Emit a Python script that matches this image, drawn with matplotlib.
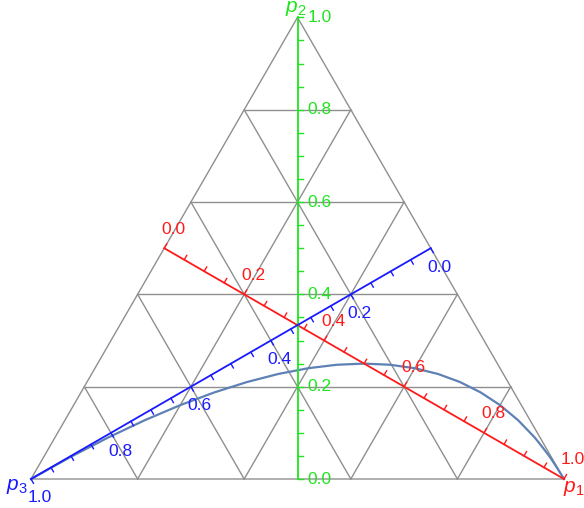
import numpy as np
import matplotlib.pyplot as plt

plt.rcParams['font.family'] = 'Liberation Sans'
plt.rcParams['mathtext.fontset'] = 'custom'
plt.rcParams['mathtext.it'] = 'Liberation Sans:italic'
plt.rcParams['mathtext.rm'] = 'Liberation Sans'

# ternary grid levels and axis labels
grid_levels = [0.2, 0.4, 0.6, 0.8]
label_values = [0.0, 0.2, 0.4, 0.6, 0.8, 1.0]
tick_step = 0.05

# curve points (p1, p2); p3 is what is left over
curve_p1 = [0.0, 0.05, 0.1, 0.15, 0.2, 0.25, 0.3, 0.35, 0.4, 0.45, 0.5, 0.55,
            0.6, 0.65, 0.7, 0.75, 0.8, 0.85, 0.9, 0.925, 0.95, 0.975, 1.0]
curve_p2 = [0.0, 0.0475, 0.09, 0.1275, 0.16, 0.1875, 0.21, 0.2275, 0.24, 0.2475, 0.25, 0.2475,
            0.24, 0.2275, 0.21, 0.1875, 0.16, 0.1275, 0.09, 0.069, 0.0475, 0.024, 0.0]

H = np.sqrt(3) / 2


def to_xy(p1, p2, p3):
    # p3 at the left corner, p1 at the right, p2 on top
    p1, p2, p3 = np.asarray(p1, float), np.asarray(p2, float), np.asarray(p3, float)
    s = p1 + p2 + p3
    return (p1 + 0.5 * p2) / s, H * p2 / s


fig = plt.figure(figsize=(5.84, 5.08), dpi=100)
ax = fig.add_axes([0, 0, 1, 1])
ax.set_xlim(-31 / 533, 553 / 533)
ax.set_ylim(-29 / 533, 479 / 533)
ax.axis('off')

gray = '#8f8f8f'
# outer triangle
x, y = to_xy([0, 1, 0, 0], [0, 0, 1, 0], [1, 0, 0, 1])
ax.plot(x, y, color=gray, lw=1.0)
# inner grid
for c in grid_levels:
    for a, b in [((c, 1 - c, 0), (c, 0, 1 - c)),
                 ((1 - c, c, 0), (0, c, 1 - c)),
                 ((1 - c, 0, c), (0, 1 - c, c))]:
        x, y = to_xy([a[0], b[0]], [a[1], b[1]], [a[2], b[2]])
        ax.plot(x, y, color=gray, lw=1.0)

# curve
cp1 = np.array(curve_p1)
cp2 = np.array(curve_p2)
x, y = to_xy(cp1, cp2, 1 - cp1 - cp2)
ax.plot(x, y, color='#5e81b5', lw=1.6, zorder=3)

# the three median axes: start, end, colour, tick normal, label offset (px)
axes_spec = [
    ((0, 0.5, 0.5), (1, 0, 0), '#ff1a1a', (0.5, H), (9, 19), 'center'),
    ((0.5, 0, 0.5), (0, 1, 0), '#1ee61e', (1, 0), (10, 0), 'left'),
    ((0.5, 0.5, 0), (0, 0, 1), '#1a1aff', (0.5, -H), (9, -19), 'center'),
]
tick_len = 5 / 533
for start, end, col, nrm, off, ha in axes_spec:
    x0, y0 = to_xy(*start)
    x1, y1 = to_xy(*end)
    ax.plot([x0, x1], [y0, y1], color=col, lw=1.3, zorder=4)
    for v in np.arange(0, 1 + 1e-9, tick_step):
        px = x0 + v * (x1 - x0)
        py = y0 + v * (y1 - y0)
        ax.plot([px, px + nrm[0] * tick_len], [py, py + nrm[1] * tick_len],
                color=col, lw=1.0, zorder=4)
    for v in label_values:
        px = x0 + v * (x1 - x0)
        py = y0 + v * (y1 - y0)
        ax.annotate(f'{v:.1f}', (px, py), xytext=off, textcoords='offset pixels',
                    ha=ha, va='center', color=col, fontsize=12.5, zorder=5)

# corner names
ax.annotate(r'$p_1$', to_xy(1, 0, 0), xytext=(10, -10), textcoords='offset pixels',
            ha='center', va='center', color='#ff1a1a', fontsize=15)
ax.annotate(r'$p_2$', to_xy(0, 1, 0), xytext=(-2, 9), textcoords='offset pixels',
            ha='center', va='center', color='#1ee61e', fontsize=15)
ax.annotate(r'$p_3$', to_xy(0, 0, 1), xytext=(-14, -8), textcoords='offset pixels',
            ha='center', va='center', color='#1a1aff', fontsize=15)

fig.savefig('out.png', dpi=100)
